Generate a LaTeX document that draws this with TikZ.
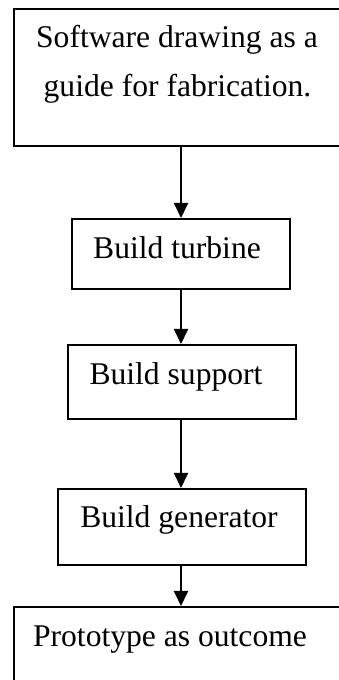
\documentclass[tikz,border=0pt]{standalone}
\usepackage{fontspec}
\setmainfont{Liberation Serif}
\usetikzlibrary{arrows.meta}
\begin{document}
\begin{tikzpicture}[x=1pt,y=1pt,
  stepbox/.style={draw,line width=2pt,inner sep=0pt,minimum width=#1},
  steptext/.style={anchor=base,inner sep=0pt,font=\fontsize{31.6}{40}\selectfont},
  flow/.style={line width=2pt,-{Triangle[length=15pt,width=14pt]}}]
\useasboundingbox (0,0) rectangle (339,680);
\clip (0,0) rectangle (339,680);
\fill[white] (0,0) rectangle (339,680);
% process boxes
\node[stepbox=331pt,minimum height=137pt] (b1) at (179.5,602.5) {};
\node[stepbox=218pt,minimum height=70pt] (b2) at (181,426) {};
\node[stepbox=228pt,minimum height=74pt] (b3) at (182,298) {};
\node[stepbox=248pt,minimum height=76pt] (b4) at (182,153) {};
\node[stepbox=331pt,minimum height=79pt] (b5) at (179.5,33.5) {};
% box labels
\node[steptext] (t1a) at (177,632) {Software drawing as a};
\node[steptext] (t1b) at (177.5,583) {guide for fabrication.};
\node[steptext] (t2) at (177,421.5) {Build turbine};
\node[steptext] (t3) at (176,295.7) {Build support};
\node[steptext] (t4) at (179,152) {Build generator};
\node[steptext] (t5) at (170,33.3) {Prototype as outcome};
% connectors
\draw[flow] (b2.north |- b1.south) -- (b2.north);
\draw[flow] (b2.south) -- (b2.south |- b3.north);
\draw[flow] (b2.south |- b3.south) -- (b2.south |- b4.north);
\draw[flow] (b2.south |- b4.south) -- (b2.south |- b5.north);
\end{tikzpicture}
\end{document}
